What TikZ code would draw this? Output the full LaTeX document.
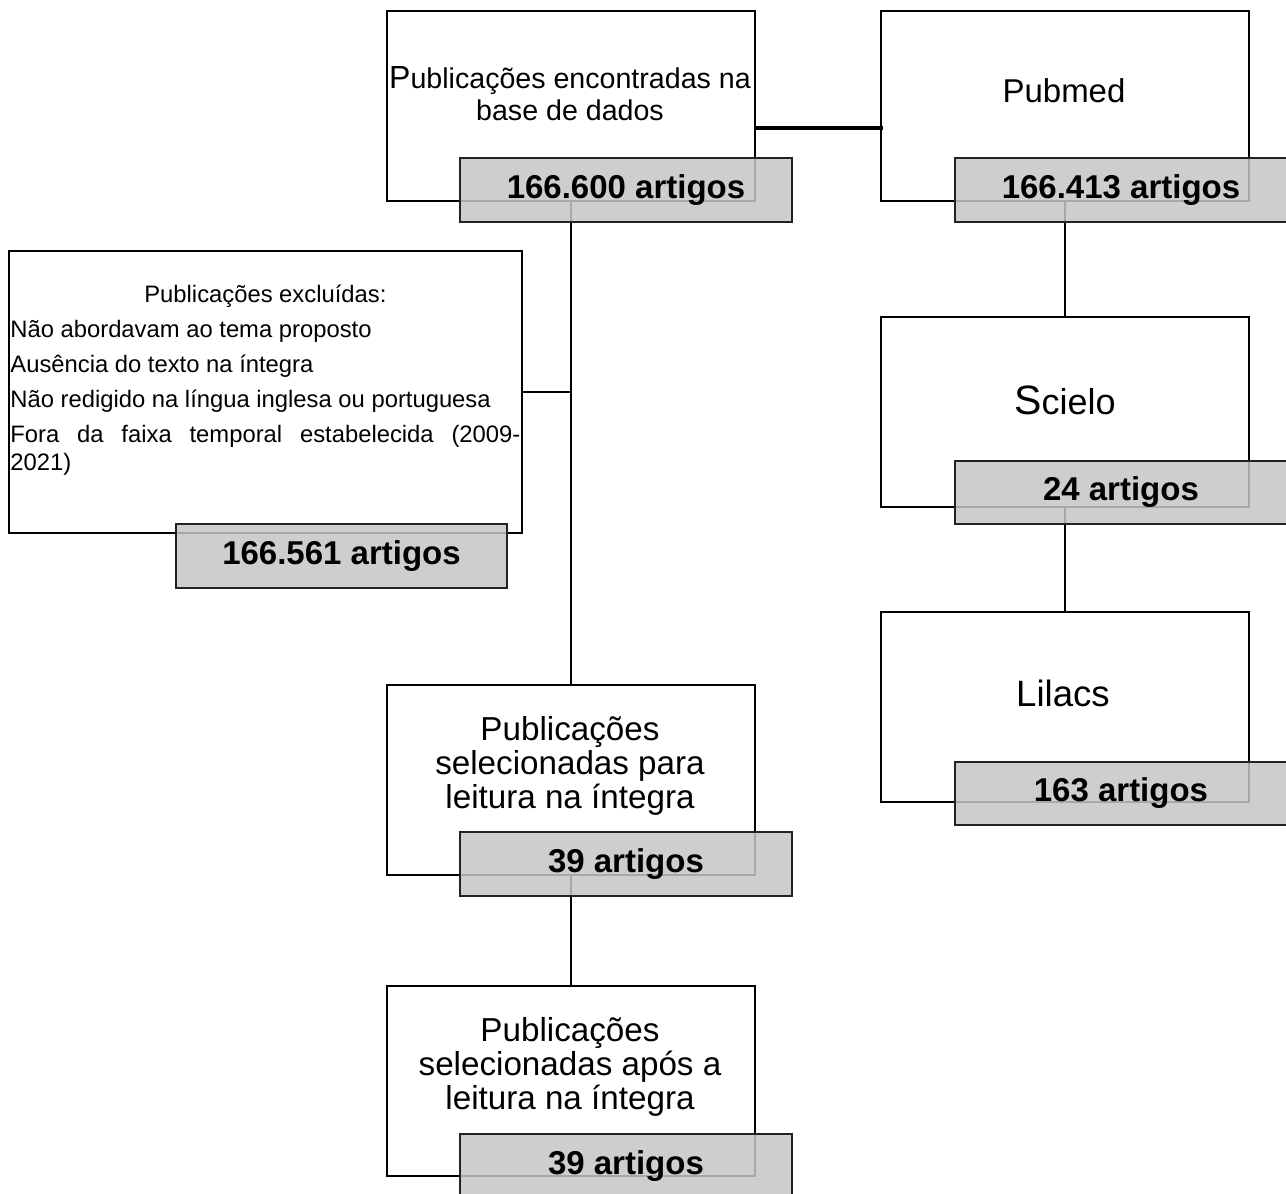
\documentclass[tikz,border=0pt]{standalone}
\usepackage{fontspec}
\setmainfont{Liberation Sans}
\definecolor{grayfill}{RGB}{198,198,198}
\definecolor{grayline}{RGB}{35,35,35}
\tikzset{
  wbox/.style={draw=black, line width=1pt, fill=white, anchor=north west, inner sep=0pt,
               minimum width=184pt, minimum height=95pt},
  gbox/.style={draw=grayline, line width=1pt, fill=grayfill, fill opacity=0.85, text opacity=1,
               anchor=north west, inner sep=0pt, minimum width=166pt, minimum height=32pt,
               font=\fontsize{16.5}{19}\selectfont\bfseries},
  txt/.style={align=center, inner sep=0pt, font=\fontsize{16.6}{17.1}\selectfont},
  conn/.style={line width=1pt, black},
}
\begin{document}
\begin{tikzpicture}[x=0.5pt,y=-0.5pt]
\useasboundingbox (0,0) rectangle (1286,1194);

% white boxes
\node[wbox] (enc) at (386,10) {};
\node[wbox] (pub) at (880,10) {};
\node[wbox, minimum width=256.5pt, minimum height=141pt] (exc) at (8,250) {};
\node[wbox] (sci) at (880,316) {};
\node[wbox] (lil) at (880,611) {};
\node[wbox] (sel) at (386,684) {};
\node[wbox] (fin) at (386,985) {};

% texts in white boxes
\node[txt, font=\fontsize{14.3}{16}\selectfont] (enctxt) at (570,94)
  {{\fontsize{16}{16}\selectfont P}ublicações encontradas na\\base de dados};
\node[txt, font=\fontsize{16.5}{18}\selectfont] (pubtxt) at (1064,91) {Pubmed};
\node[txt, font=\fontsize{18}{18}\selectfont] (scitxt) at (1065,400)
  {{\fontsize{20.5}{20}\selectfont S}cielo};
\node[txt, font=\fontsize{18.3}{18}\selectfont] (liltxt) at (1063,693) {Lilacs};
\node[txt] (seltxt) at (570,766) {Publicações\\selecionadas para\\leitura na íntegra};
\node[txt] (fintxt) at (570,1067) {Publicações\\selecionadas após a\\leitura na íntegra};
\node[anchor=north west, inner sep=0pt, text width=255pt, align=justify,
      font=\fontsize{11.9}{14}\selectfont] (exctxt) at (10,285)
  {\setlength{\parskip}{3.4pt}%
   \makebox[\linewidth]{Publicações excluídas:}\par
   Não abordavam ao tema proposto\par
   Ausência do texto na íntegra\par
   Não redigido na língua inglesa ou portuguesa\par
   Fora da faixa temporal estabelecida (2009-\linebreak 2021)\par};

% connectors
\draw[conn, line width=1.6pt] ([yshift=-11pt]enc.east) -- ([yshift=-11pt,xshift=1.5pt]pub.west);
\draw[conn] (enc.south) -- (sel.north);
\draw[conn, line width=0.8pt] (exc.east) -- (exc.east -| enc.south);
\draw[conn] (pub.south) -- (sci.north);
\draw[conn] (sci.south) -- (lil.north);
\draw[conn] (sel.south) -- (fin.north);

% gray count boxes
\node[gbox] (encn) at (459,157) {166.600 artigos};
\node[gbox] (pubn) at (954,157) {166.413 artigos};
\node[gbox, minimum width=165.5pt] (excn) at (175,523) {166.561 artigos};
\node[gbox, minimum height=31.5pt] (scin) at (954,460) {24 artigos};
\node[gbox, minimum height=31.5pt] (liln) at (954,761) {163 artigos};
\node[gbox] (seln) at (459,831) {39 artigos};
\node[gbox] (finn) at (459,1133) {39 artigos};
\end{tikzpicture}
\end{document}
